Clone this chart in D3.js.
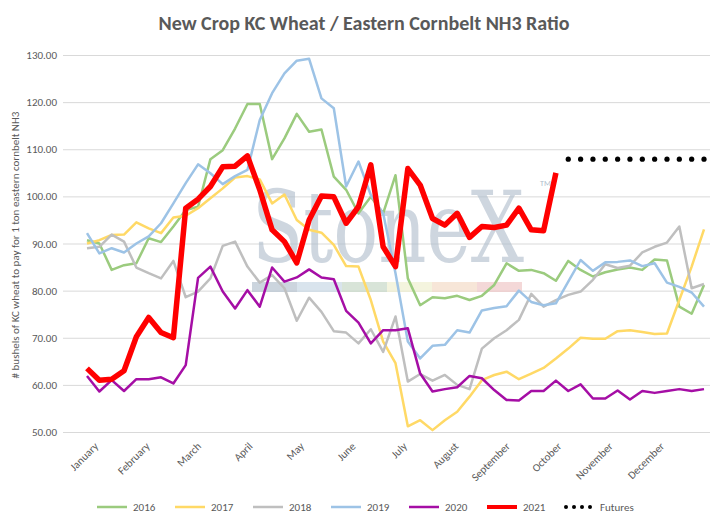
<!DOCTYPE html>
<html>
<head>
<meta charset="utf-8">
<script src="https://cdn.jsdelivr.net/npm/d3@7"></script>
<style>
  body { margin: 0; background: #fff; }
  text { font-family: Calibri, Carlito, "Open Sans", sans-serif; }
</style>
</head>
<body>
<svg id="canvas" width="728" height="528"></svg>
<script>
let series = [
  { name: "2016", color: "#9bcb7e", width: 2.5, values: [90.7,90.0,84.4,85.4,85.8,91.1,90.3,93.6,97.1,97.8,107.9,109.8,114.4,119.6,119.6,107.9,112.3,117.5,113.7,114.2,104.2,101.4,96.4,99.9,96.4,104.5,82.6,76.9,78.6,78.4,78.9,78.0,78.9,81.2,85.8,84.2,84.4,83.7,82.1,86.3,84.4,83.0,83.9,84.5,84.9,84.4,86.6,86.4,76.6,75.1,81.2] },
  { name: "2017", color: "#ffd966", width: 2.5, values: [90.0,90.7,91.8,91.9,94.5,93.2,92.2,95.5,95.9,97.5,99.6,101.7,104.0,104.3,103.6,98.5,100.4,95.0,92.9,92.3,89.7,85.2,85.1,78.0,69.2,64.6,51.2,52.5,50.4,52.5,54.3,57.5,61.0,62.1,62.8,61.2,62.4,63.6,65.6,67.7,70.0,69.8,69.8,71.4,71.6,71.2,70.8,70.9,78.0,85.1,93.0] },
  { name: "2018", color: "#bfbfbf", width: 2.5, values: [89.0,89.3,91.9,90.4,84.9,83.7,82.6,86.3,78.6,79.8,82.6,89.5,90.4,85.1,81.7,83.3,80.5,73.6,78.5,75.5,71.4,71.1,68.8,71.8,67.0,74.5,60.7,62.3,60.9,62.1,60.0,59.1,67.7,69.9,71.6,73.8,79.3,76.6,78.0,79.1,79.8,82.3,85.6,84.8,85.3,88.1,89.3,90.2,93.6,80.5,81.4] },
  { name: "2019", color: "#9dc3e6", width: 2.5, values: [92.2,87.9,89.0,88.1,90.0,91.5,94.3,98.5,102.8,106.8,104.9,102.6,104.3,105.6,116.2,121.9,126.1,128.8,129.2,120.8,118.7,102.1,107.4,100.3,96.4,83.7,69.2,65.6,68.3,68.5,71.6,71.1,75.8,76.3,76.7,80.0,77.6,76.9,77.3,81.9,86.5,84.2,86.0,86.1,86.4,85.2,85.8,81.7,80.8,79.6,76.6] },
  { name: "2020", color: "#a50ea5", width: 2.5, values: [61.9,58.6,61.0,58.7,61.2,61.2,61.6,60.3,64.2,82.7,85.1,79.8,76.2,80.1,76.6,84.9,81.9,82.8,84.5,82.8,82.4,75.7,73.2,68.8,71.6,71.6,72.0,62.4,58.6,59.1,59.5,61.9,61.4,58.9,56.8,56.7,58.7,58.7,60.9,58.7,60.1,57.1,57.1,58.8,56.9,58.7,58.3,58.7,59.1,58.7,59.1] },
  { name: "2021", color: "#ff0000", width: 5.5, values: [63.5,61.0,61.2,63.0,70.2,74.3,71.1,70.0,97.5,99.4,102.1,106.3,106.4,108.6,101.4,92.9,90.4,85.9,95.0,100.1,99.9,94.3,97.8,106.7,89.3,85.1,105.9,102.4,95.3,93.9,96.4,91.3,93.6,93.4,93.9,97.5,92.9,92.7,105.0] }
];
let futures = { start: 39, count: 12, value: 107.9 };
let months = ["January","February","March","April","May","June","July","August","September","October","November","December"];

let canvas = d3.select("#canvas");
let x = d3.scaleLinear().domain([0, 50]).range([87, 704]);
let y = d3.scaleLinear().domain([50, 130]).range([432, 55]);

// title
canvas.append("text").attr("x", 364).attr("y", 30).attr("text-anchor", "middle")
  .attr("font-size", 20).attr("font-weight", "bold").attr("fill", "#595959")
  .text("New Crop KC Wheat / Eastern Cornbelt NH3 Ratio");

// grid + y axis
let yAxis = d3.axisLeft(y).tickValues(d3.range(50, 131, 10)).tickFormat(d3.format(".2f"))
  .tickSize(-647).tickPadding(6);
let gy = canvas.append("g").attr("transform", "translate(63,0)").call(yAxis);
gy.select(".domain").remove();
gy.selectAll("line").attr("stroke", "#d9d9d9");
gy.selectAll("text").attr("fill", "#595959").attr("font-size", 11);

canvas.append("text").attr("transform", "translate(19,245) rotate(-90)")
  .attr("text-anchor", "middle").attr("font-size", 11).attr("fill", "#595959")
  .text("# bushels of KC wheat to pay for 1 ton eastern cornbelt NH3");

// watermark
canvas.append("text").attr("x", 252).attr("y", 262)
  .style("font-family", "'DejaVu Serif', 'Liberation Serif', serif").attr("font-size", 100)
  .attr("textLength", 272).attr("lengthAdjust", "spacingAndGlyphs")
  .attr("fill", "#aebccb").attr("opacity", 0.6).text("StoneX");
canvas.append("text").attr("x", 540).attr("y", 186).attr("font-size", 8)
  .attr("fill", "#aebccb").text("TM");
let bandColors = ["#b6c3d0", "#c9d9e6", "#c8d9c8", "#f0efd0", "#f3dcc8", "#f0c8c8"];
bandColors.forEach((c, i) => {
  canvas.append("rect").attr("x", 252 + i * 45).attr("y", 282).attr("width", 45).attr("height", 10)
    .attr("fill", c).attr("opacity", 0.7);
});

// months
months.forEach((m, i) => {
  let px = x(i * 4.17) + 12;
  canvas.append("text").attr("transform", `translate(${px},447) rotate(-45)`)
    .attr("text-anchor", "end").attr("font-size", 11).attr("fill", "#595959").text(m);
});

// lines
let line = d3.line().x((d, i) => x(i)).y(d => y(d)).curve(d3.curveLinear);
series.forEach(s => {
  canvas.append("path").datum(s.values).attr("d", line).attr("fill", "none")
    .attr("stroke", s.color).attr("stroke-width", s.width).attr("stroke-linejoin", "round");
});

canvas.selectAll(".fut").data(d3.range(futures.start, futures.start + futures.count)).enter()
  .append("circle").attr("cx", d => x(d)).attr("cy", y(futures.value)).attr("r", 2.6).attr("fill", "#000");

// legend
let legend = canvas.append("g").attr("transform", "translate(0,507)");
series.forEach((s, i) => {
  let lx = 97 + i * 78;
  legend.append("line").attr("x1", lx).attr("x2", lx + 30).attr("stroke", s.color)
    .attr("stroke-width", s.name === "2021" ? 4 : 2.5);
  legend.append("text").attr("x", lx + 36).attr("y", 4).attr("font-size", 11)
    .attr("fill", "#595959").text(s.name);
});
[0, 1, 2, 3].forEach(k => {
  legend.append("circle").attr("cx", 566 + k * 8).attr("cy", 0).attr("r", 2).attr("fill", "#000");
});
legend.append("text").attr("x", 600).attr("y", 4).attr("font-size", 11).attr("fill", "#595959").text("Futures");
</script>
</body>
</html>
